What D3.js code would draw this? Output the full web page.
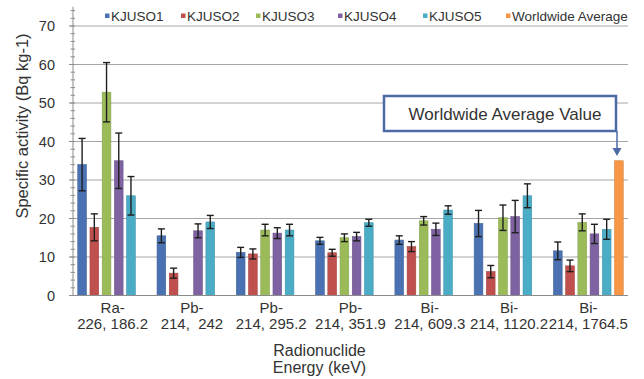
<!DOCTYPE html>
<html>
<head>
<meta charset="utf-8">
<script src="https://cdn.jsdelivr.net/npm/d3@7"></script>
<style>
  html, body { margin: 0; padding: 0; background: #fff; }
  svg { display: block; font-family: "Liberation Sans", Arial, sans-serif; }
</style>
</head>
<body>
<svg id="chart" width="644" height="379"></svg>
<script>
// Radionuclide lines (two-line category labels)
const nuclides = ["Ra-", "Pb-", "Pb-", "Pb-", "Bi-", "Bi-", "Bi-"];
const energies = ["226, 186.2", "214,  242", "214, 295.2", "214, 351.9", "214, 609.3", "214, 1120.2", "214, 1764.5"];

// Sample series: specific activity (Bq kg-1) and their uncertainties
const seriesNames = ["KJUSO1", "KJUSO2", "KJUSO3", "KJUSO4", "KJUSO5", "Worldwide Average"];
const kjuso1 = [34.0, 15.5, 11.2, 14.2, 14.4, 18.7, 11.6];
const kjuso2 = [17.7, 5.8, 10.8, 11.1, 12.7, 6.2, 7.7];
const kjuso3 = [52.8, null, 17.0, 15.0, 19.4, 20.2, 19.0];
const kjuso4 = [35.0, 16.8, 16.2, 15.3, 17.2, 20.5, 16.0];
const kjuso5 = [25.9, 19.1, 17.0, 18.9, 22.2, 25.9, 17.2];
const worldwide = [null, null, null, null, null, null, 35];

const err1 = [6.8, 1.8, 1.3, 0.9, 1.1, 3.4, 2.3];
const err2 = [3.5, 1.3, 1.3, 0.9, 1.3, 1.6, 1.5];
const err3 = [7.7, null, 1.5, 1.0, 1.1, 3.3, 2.2];
const err4 = [7.2, 1.8, 1.4, 1.1, 1.6, 4.2, 2.5];
const err5 = [5.0, 1.7, 1.5, 0.9, 1.1, 3.1, 2.6];
const errW = [null, null, null, null, null, null, null];

const yTicks = [0, 10, 20, 30, 40, 50, 60, 70];
const colors = ["#4a72b2", "#c0504d", "#9bbb59", "#7e62a1", "#4bacc6", "#f79646"];

const values = [kjuso1, kjuso2, kjuso3, kjuso4, kjuso5, worldwide];
const errors = [err1, err2, err3, err4, err5, errW];

const svg = d3.select("#chart");
const plotL = 73, plotR = 628, plotB = 295.5, plotT = 6.75;

const x0 = d3.scaleBand().domain(d3.range(nuclides.length)).range([plotL, plotR]);
const x1 = d3.scaleBand().domain(d3.range(seriesNames.length))
  .range([0, x0.bandwidth()]).paddingInner(0.29).paddingOuter(0.39);
const y = d3.scaleLinear().domain([0, 75]).range([plotB, plotT]);

// gridlines
svg.append("g").selectAll("line").data(yTicks.filter(d => d > 0)).join("line")
  .attr("x1", plotL).attr("x2", plotR)
  .attr("y1", d => y(d)).attr("y2", d => y(d))
  .attr("stroke", "#a6a6a6").attr("stroke-width", 1);

// y axis with minor ticks every 2
const minor = d3.range(0, 75, 2);
const yAxis = svg.append("g");
yAxis.append("line").attr("x1", plotL).attr("x2", plotL).attr("y1", y(75)).attr("y2", plotB)
  .attr("stroke", "#8c8c8c");
yAxis.selectAll("line.minor").data(minor).join("line").attr("class", "minor")
  .attr("x1", plotL - 2.5).attr("x2", plotL + 2).attr("y1", d => y(d)).attr("y2", d => y(d))
  .attr("stroke", "#8c8c8c");
yAxis.selectAll("line.major").data(yTicks).join("line").attr("class", "major")
  .attr("x1", plotL - 4).attr("x2", plotL).attr("y1", d => y(d)).attr("y2", d => y(d))
  .attr("stroke", "#8c8c8c");
yAxis.selectAll("text").data(yTicks).join("text")
  .attr("x", 55).attr("y", d => y(d)).attr("dy", "0.35em")
  .attr("text-anchor", "end").attr("font-size", 14.5).attr("fill", "#333")
  .text(d => d);

// bars
const groups = svg.append("g").selectAll("g").data(d3.range(nuclides.length)).join("g")
  .attr("transform", i => `translate(${x0(i)},0)`);

groups.each(function (i) {
  const g = d3.select(this);
  seriesNames.forEach((name, s) => {
    const v = values[s][i];
    if (v == null) return;
    g.append("rect")
      .attr("x", x1(s)).attr("width", x1.bandwidth())
      .attr("y", y(v)).attr("height", y(0) - y(v))
      .attr("fill", colors[s])
      .attr("stroke", d3.color(colors[s]).darker(0.4)).attr("stroke-width", 0.6);
    const e = errors[s][i];
    if (e == null) return;
    const cx = x1(s) + x1.bandwidth() / 2, hw = 3.5;
    const eb = g.append("g").attr("stroke", "#1f1f1f").attr("stroke-width", 1.4);
    eb.append("line").attr("x1", cx).attr("x2", cx).attr("y1", y(v + e)).attr("y2", y(v - e));
    eb.append("line").attr("x1", cx - hw).attr("x2", cx + hw).attr("y1", y(v + e)).attr("y2", y(v + e));
    eb.append("line").attr("x1", cx - hw).attr("x2", cx + hw).attr("y1", y(v - e)).attr("y2", y(v - e));
  });
});

// x axis baseline
svg.append("line").attr("x1", plotL).attr("x2", plotR).attr("y1", plotB).attr("y2", plotB)
  .attr("stroke", "#8c8c8c");

// category labels
const xl = svg.append("g").attr("font-size", 15).attr("fill", "#333").attr("text-anchor", "middle");
xl.selectAll("text.n").data(nuclides).join("text").attr("class", "n")
  .attr("x", (d, i) => x0(i) + x0.bandwidth() / 2).attr("y", 313).text(d => d);
xl.selectAll("text.e").data(energies).join("text").attr("class", "e")
  .style("white-space", "pre")
  .attr("x", (d, i) => x0(i) + x0.bandwidth() / 2).attr("y", 328.5).text(d => d);

// axis titles
svg.append("text").attr("x", 319.5).attr("y", 355.5).attr("text-anchor", "middle")
  .attr("font-size", 16).attr("fill", "#333").text("Radionuclide");
svg.append("text").attr("x", 319.5).attr("y", 373).attr("text-anchor", "middle")
  .attr("font-size", 16).attr("fill", "#333").text("Energy (keV)");
svg.append("text").attr("transform", "translate(28,126) rotate(-90)")
  .attr("text-anchor", "middle").attr("font-size", 16.5).attr("fill", "#333")
  .text("Specific activity (Bq kg-1)");

// legend
const legendX = [105, 181, 256, 338, 423, 506];
const lg = svg.append("g");
seriesNames.forEach((name, s) => {
  lg.append("rect").attr("x", legendX[s]).attr("y", 13.5).attr("width", 4.5).attr("height", 4.5)
    .attr("fill", colors[s]);
  lg.append("text").attr("x", legendX[s] + 6).attr("y", 21).attr("font-size", 13.5)
    .attr("fill", "#333").text(name);
});

// annotation pointing at the worldwide average bar
const boxL = 384, boxR = 616, boxT = 96, boxB = 131;
svg.append("rect").attr("x", boxL).attr("y", boxT).attr("width", boxR - boxL).attr("height", boxB - boxT)
  .attr("fill", "#fff").attr("stroke", "#4d6aa6").attr("stroke-width", 2.5);
svg.append("text").attr("x", (boxL + boxR) / 2 + 5).attr("y", 120).attr("text-anchor", "middle")
  .attr("font-size", 17).attr("fill", "#333").text("Worldwide Average Value");
svg.append("line").attr("x1", boxR + 1).attr("x2", boxR + 1).attr("y1", boxB).attr("y2", 149)
  .attr("stroke", "#4d6aa6").attr("stroke-width", 1.5);
svg.append("path")
  .attr("d", `M${boxR + 1 - 4.5},148 L${boxR + 1 + 4.5},148 L${boxR + 1},156 Z`)
  .attr("fill", "#4d6aa6");
</script>
</body>
</html>
